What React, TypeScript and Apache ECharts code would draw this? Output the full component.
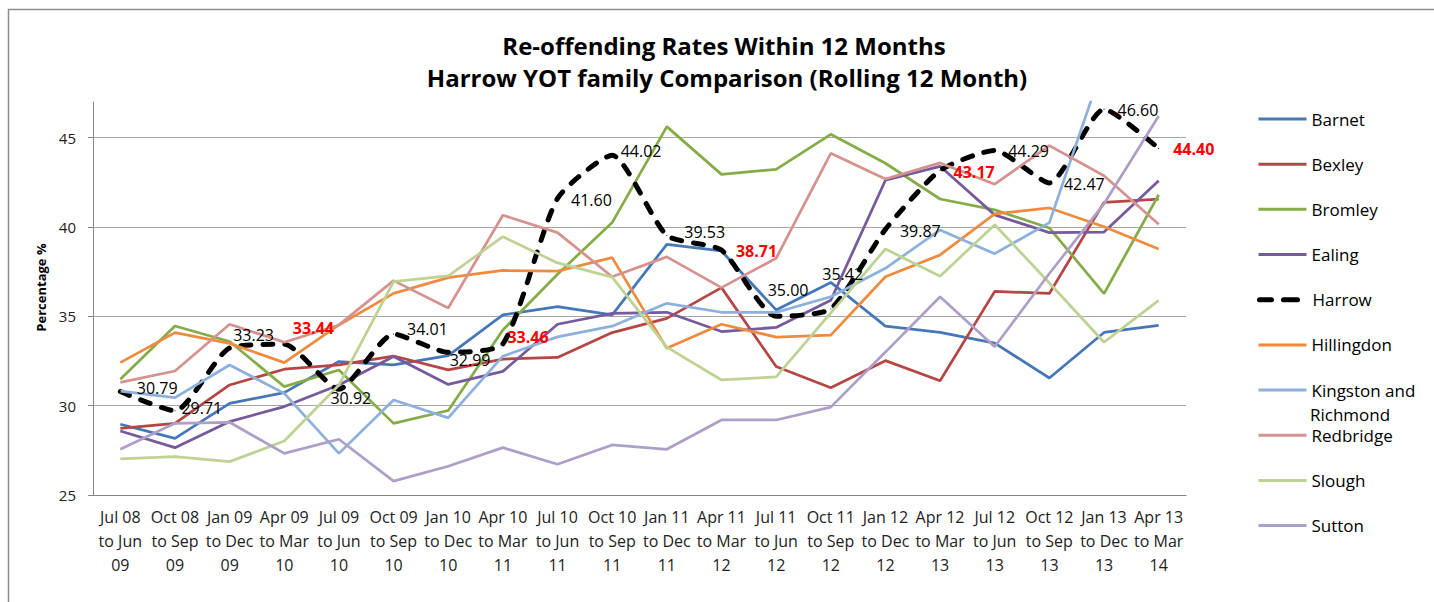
import React, { useEffect, useRef } from 'react';
import * as echarts from 'echarts';

// ---------- data ----------
const titleLines = [
  'Re-offending Rates Within 12 Months',
  'Harrow YOT family Comparison (Rolling 12 Month)',
];
const yAxisName = 'Percentage %';

const categories = [
  'Jul 08 to Jun 09', 'Oct 08 to Sep 09', 'Jan 09 to Dec 09', 'Apr 09 to Mar 10',
  'Jul 09 to Jun 10', 'Oct 09 to Sep 10', 'Jan 10 to Dec 10', 'Apr 10 to Mar 11',
  'Jul 10 to Jun 11', 'Oct 10 to Sep 11', 'Jan 11 to Dec 11', 'Apr 11 to Mar 12',
  'Jul 11 to Jun 12', 'Oct 11 to Sep 12', 'Jan 12 to Dec 12', 'Apr 12 to Mar 13',
  'Jul 12 to Jun 13', 'Oct 12 to Sep 13', 'Jan 13 to Dec 13', 'Apr 13 to Mar 14',
];

const yMin = 25;
const yMax = 47;
const yInterval = 5;

const barnet = [28.96, 28.17, 30.13, 30.73, 32.47, 32.28, 32.8, 35.08, 35.54, 35.08, 39.03, 38.66, 35.36, 36.9, 34.45, 34.1, 33.5, 31.55, 34.1, 34.5];
const bexley = [28.73, 29.01, 31.16, 32.04, 32.28, 32.78, 32.0, 32.61, 32.7, 34.09, 34.89, 36.61, 32.19, 31.0, 32.52, 31.4, 36.4, 36.28, 41.38, 41.56];
const bromley = [31.48, 34.46, 33.59, 31.07, 32.0, 29.01, 29.73, 34.24, 37.36, 40.25, 45.62, 42.95, 43.23, 45.19, 43.57, 41.57, 40.96, 39.95, 36.27, 41.81];
const ealing = [28.58, 27.65, 29.11, 29.95, 31.16, 32.75, 31.19, 31.92, 34.56, 35.17, 35.23, 34.15, 34.38, 35.9, 42.62, 43.4, 40.68, 39.69, 39.72, 42.59];
const harrow = [30.79, 29.71, 33.23, 33.44, 30.92, 34.01, 32.99, 33.46, 41.6, 44.02, 39.53, 38.71, 35.0, 35.42, 39.87, 43.17, 44.29, 42.47, 46.6, 44.4];
const hillingdon = [32.41, 34.09, 33.49, 32.41, 34.52, 36.29, 37.17, 37.57, 37.53, 38.29, 33.21, 34.56, 33.84, 33.95, 37.22, 38.44, 40.74, 41.07, 40.02, 38.77];
const kingston = [30.82, 30.45, 32.28, 30.69, 27.33, 30.32, 29.32, 32.77, 33.85, 34.45, 35.73, 35.23, 35.22, 36.1, 37.69, 39.84, 38.51, 40.25, 49.2, 48.5];
const redbridge = [31.31, 31.94, 34.56, 33.55, 34.52, 37.0, 35.47, 40.66, 39.69, 37.22, 38.33, 36.61, 38.25, 44.13, 42.69, 43.59, 42.4, 44.56, 42.87, 40.16];
const slough = [27.02, 27.15, 26.87, 28.02, 31.16, 36.94, 37.26, 39.46, 37.99, 37.2, 33.28, 31.44, 31.61, 35.19, 38.77, 37.25, 40.13, 36.87, 33.55, 35.9];
const sutton = [27.56, 29.01, 29.07, 27.33, 28.12, 25.78, 26.61, 27.65, 26.72, 27.8, 27.56, 29.2, 29.2, 29.92, 33.0, 36.1, 33.3, 37.4, 41.3, 46.22];

// Harrow points whose labels are highlighted in red
const highlightedLabelIdx = [3, 7, 11, 15, 19];

// legend text for the wrapped entry
const kingstonLegendLines = ['Kingston and', 'Richmond'];

// ---------- layout / styles ----------
const FONT = '"Open Sans", "Noto Sans", "DejaVu Sans", sans-serif';

const seriesDefs = [
  { name: 'Barnet', data: barnet, color: '#4677B8' },
  { name: 'Bexley', data: bexley, color: '#B54643' },
  { name: 'Bromley', data: bromley, color: '#86AC48' },
  { name: 'Ealing', data: ealing, color: '#765A9B' },
  { name: 'Harrow', data: harrow, color: '#000000' },
  { name: 'Hillingdon', data: hillingdon, color: '#EE8B3F' },
  { name: 'Kingston and Richmond', data: kingston, color: '#8DB0DC' },
  { name: 'Redbridge', data: redbridge, color: '#D6928F' },
  { name: 'Slough', data: slough, color: '#BDD293' },
  { name: 'Sutton', data: sutton, color: '#AE9FC8' },
];

// label offsets (x from point to label left edge, y of label centre) in px
const harrowLabelOffsets: number[][] = [
  [16, -4], [6, -3], [3, -13], [8, -16], [-9, 9], [13, -5], [1, 8], [4, -7], [13, 2], [8, -4],
  [17, -3], [14, 1], [-9, -26], [-9, -35], [14, 2], [13, 2], [13, 1], [14, 1], [13, 1], [14, 1],
];

const LEGEND_LEFT = 1257;
const LEGEND_Y0 = 121;
const LEGEND_STEP = 45.18;

function wrapCategory(s: string) {
  const p = s.split(' ');
  return `${p[0]} ${p[1]}\n${p[2]} ${p[3]}\n${p[4]}`;
}

function buildOption() {
  const series = seriesDefs.map((d) => {
    if (d.name === 'Harrow') {
      return {
        name: d.name,
        type: 'line',
        z: 3,
        smooth: 0.2,
        symbol: 'circle',
        symbolSize: 1,
        showSymbol: true,
        showAllSymbol: true,
        itemStyle: { color: d.color },
        lineStyle: { color: d.color, width: 5, type: [10, 12], cap: 'round' },
        label: {
          show: true,
          position: 'right',
          distance: 0,
          fontFamily: FONT,
          fontSize: 16,
          color: '#000',
        },
        data: d.data.map((v, i) => {
          const hi = highlightedLabelIdx.includes(i);
          return {
            value: v,
            label: {
              offset: harrowLabelOffsets[i],
              color: hi ? '#FF0000' : '#000',
              fontWeight: hi ? 'bold' : 'normal',
              formatter: v.toFixed(2),
            },
          };
        }),
      };
    }
    return {
      name: d.name,
      type: 'line',
      symbol: 'none',
      smooth: false,
      itemStyle: { color: d.color },
      lineStyle: { color: d.color, width: 2.75 },
      data: d.data,
    };
  });

  const legends = seriesDefs.map((d, i) => {
    const isHarrow = d.name === 'Harrow';
    const isKing = d.name === 'Kingston and Richmond';
    return {
      data: [d.name],
      orient: 'vertical',
      left: LEGEND_LEFT,
      top: LEGEND_Y0 + LEGEND_STEP * i - 13,
      padding: 0,
      itemGap: 0,
      itemWidth: 48,
      itemHeight: 26,
      selectedMode: false,
      itemStyle: { opacity: 0 },
      lineStyle: isHarrow
        ? { width: 5, type: [12, 12, 14, 100], cap: 'round' }
        : { width: 3 },
      formatter: isKing ? kingstonLegendLines[0] : '{name}',
      textStyle: { fontFamily: FONT, fontSize: 17, color: '#000', lineHeight: 22 },
    };
  });

  const kingIdx = seriesDefs.findIndex((d) => d.name === 'Kingston and Richmond');

  return {
    animation: false,
    backgroundColor: '#ffffff',
    grid: { left: 93, right: 248, top: 102, bottom: 107, containLabel: false },
    xAxis: {
      type: 'category',
      data: categories,
      boundaryGap: true,
      axisLine: { show: true, lineStyle: { color: '#868686', width: 1 } },
      axisTick: { show: false },
      splitLine: { show: false },
      axisLabel: {
        interval: 0,
        margin: 10,
        color: '#222',
        fontFamily: FONT,
        fontSize: 16,
        lineHeight: 24,
        formatter: wrapCategory,
      },
    },
    yAxis: {
      type: 'value',
      min: yMin,
      max: yMax,
      interval: yInterval,
      name: yAxisName,
      nameLocation: 'middle',
      nameRotate: 90,
      nameGap: 44,
      nameTextStyle: {
        fontFamily: FONT,
        fontSize: 13,
        fontWeight: 'bold',
        color: '#000',
        padding: [0, 0, 0, 22],
      },
      axisLine: { show: true, lineStyle: { color: '#868686', width: 1 } },
      axisTick: { show: true, length: 5, lineStyle: { color: '#868686' } },
      axisLabel: {
        showMaxLabel: false,
        margin: 17,
        color: '#222',
        fontFamily: FONT,
        fontSize: 15,
      },
      splitLine: {
        show: true,
        showMaxLine: false,
        lineStyle: { color: '#a6a6a6', width: 1 },
      },
    },
    legend: legends,
    series,
    graphic: [
      {
        type: 'rect',
        silent: true,
        shape: { x: 8.5, y: 9.5, width: 1440, height: 620 },
        style: { fill: 'none', stroke: '#8c8c8c', lineWidth: 1.5 },
        z: -1,
      },
      {
        type: 'text',
        x: LEGEND_LEFT + 53,
        y: LEGEND_Y0 + LEGEND_STEP * kingIdx + 22,
        style: {
          text: kingstonLegendLines[1],
          align: 'left',
          verticalAlign: 'middle',
          textAlign: 'left',
          textVerticalAlign: 'middle',
          fontFamily: FONT,
          fontSize: 17,
          fill: '#000',
        },
      },
      {
        type: 'text',
        x: 724,
        y: 45,
        style: {
          text: titleLines[0],
          align: 'center',
          verticalAlign: 'middle',
          textAlign: 'center',
          textVerticalAlign: 'middle',
          fontFamily: FONT,
          fontSize: 24,
          fontWeight: 'bold',
          fill: '#000',
        },
      },
      {
        type: 'text',
        x: 727,
        y: 77,
        style: {
          text: titleLines[1],
          align: 'center',
          verticalAlign: 'middle',
          textAlign: 'center',
          textVerticalAlign: 'middle',
          fontFamily: FONT,
          fontSize: 24,
          fontWeight: 'bold',
          fill: '#000',
        },
      },
    ],
  };
}

export default function App() {
  const ref = useRef<HTMLDivElement>(null);
  useEffect(() => {
    if (!ref.current) return;
    const chart = echarts.init(ref.current, undefined, { renderer: 'svg' });
    chart.setOption(buildOption() as any);
    return () => {
      chart.dispose();
    };
  }, []);
  return (
    <div
      ref={ref}
      style={{ position: 'absolute', left: 0, top: 0, width: 1434, height: 602 }}
    />
  );
}
